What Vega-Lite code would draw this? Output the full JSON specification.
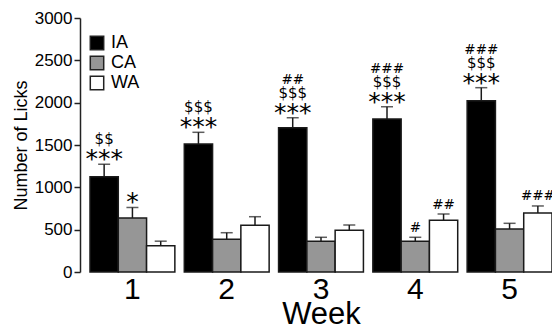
{
  "$schema": "https://vega.github.io/schema/vega-lite/v6.json",
  "width": 462,
  "height": 254,
  "autosize": "none",
  "padding": {"left": 90, "top": 18, "right": 0, "bottom": 60},
  "background": "white",
  "config": {
    "view": {"stroke": null},
    "font": "Liberation Sans",
    "axisY": {
      "offset": 10,
      "domainColor": "#222",
      "domainWidth": 1.5,
      "tickColor": "#222",
      "tickWidth": 1.5,
      "tickSize": 6,
      "labelPadding": 2,
      "labelFontSize": 17,
      "labelColor": "black",
      "titleFontSize": 18,
      "titleFontWeight": "normal",
      "titleColor": "black",
      "titlePadding": 4,
      "grid": false,
      "format": "d",
      "values": [0, 500, 1000, 1500, 2000, 2500, 3000]
    }
  },
  "data": {
    "values": [
      {"week": "1", "group": "IA", "value": 1126, "err": 1272, "star": "***", "dollar": "$$", "hash": ""},
      {"week": "1", "group": "CA", "value": 638, "err": 762, "star": "*", "dollar": "", "hash": ""},
      {"week": "1", "group": "WA", "value": 311, "err": 364, "star": "", "dollar": "", "hash": ""},
      {"week": "2", "group": "IA", "value": 1512, "err": 1650, "star": "***", "dollar": "$$$", "hash": ""},
      {"week": "2", "group": "CA", "value": 386, "err": 464, "star": "", "dollar": "", "hash": ""},
      {"week": "2", "group": "WA", "value": 552, "err": 653, "star": "", "dollar": "", "hash": ""},
      {"week": "3", "group": "IA", "value": 1704, "err": 1822, "star": "***", "dollar": "$$$", "hash": "##"},
      {"week": "3", "group": "CA", "value": 363, "err": 410, "star": "", "dollar": "", "hash": ""},
      {"week": "3", "group": "WA", "value": 492, "err": 555, "star": "", "dollar": "", "hash": ""},
      {"week": "4", "group": "IA", "value": 1807, "err": 1952, "star": "***", "dollar": "$$$", "hash": "###"},
      {"week": "4", "group": "CA", "value": 363, "err": 410, "star": "", "dollar": "", "hash": "#"},
      {"week": "4", "group": "WA", "value": 611, "err": 685, "star": "", "dollar": "", "hash": "##"},
      {"week": "5", "group": "IA", "value": 2023, "err": 2177, "star": "***", "dollar": "$$$", "hash": "###"},
      {"week": "5", "group": "CA", "value": 508, "err": 575, "star": "", "dollar": "", "hash": ""},
      {"week": "5", "group": "WA", "value": 697, "err": 780, "star": "", "dollar": "", "hash": "###"}
    ]
  },
  "encoding": {
    "x": {
      "field": "week",
      "type": "ordinal",
      "scale": {"paddingInner": 0.1, "paddingOuter": 0},
      "axis": {
        "title": "Week",
        "labelAngle": 0,
        "domain": false,
        "ticks": false,
        "labelFontSize": 30,
        "labelColor": "black",
        "labelPadding": 2,
        "titleFontSize": 31,
        "titleFontWeight": "normal",
        "titleColor": "black",
        "titlePadding": -5
      }
    },
    "xOffset": {
      "field": "group",
      "type": "nominal",
      "sort": ["IA", "CA", "WA"],
      "scale": {"domain": ["IA", "CA", "WA"], "paddingInner": 0, "paddingOuter": 0}
    }
  },
  "layer": [
    {
      "mark": {"type": "bar", "stroke": "#1a1a1a", "strokeWidth": 1.5},
      "encoding": {
        "y": {"field": "value", "type": "quantitative", "title": "Number of Licks", "scale": {"domain": [0, 3000], "nice": false}},
        "color": {
          "field": "group",
          "type": "nominal",
          "scale": {"domain": ["IA", "CA", "WA"], "range": ["#000000", "#969696", "#ffffff"]},
          "legend": {
            "title": null,
            "orient": "none",
            "legendX": -2,
            "legendY": 16,
            "symbolType": "square",
            "symbolSize": 180,
            "symbolStrokeColor": "#222",
            "symbolStrokeWidth": 1.5,
            "symbolOpacity": 1,
            "labelFontSize": 18,
            "labelColor": "black",
            "labelOffset": 5,
            "rowPadding": 0
          }
        }
      }
    },
    {
      "mark": {"type": "rule", "strokeWidth": 1.5, "color": "#1a1a1a"},
      "encoding": {
        "y": {"field": "value", "type": "quantitative", "title": "Number of Licks"},
        "y2": {"field": "err"}
      }
    },
    {
      "mark": {"type": "tick", "thickness": 1.5, "size": 12, "color": "#1a1a1a"},
      "encoding": {
        "y": {"field": "err", "type": "quantitative", "title": "Number of Licks"}
      }
    },
    {
      "transform": [{"filter": "datum.star != ''"}],
      "mark": {"type": "text", "font": "DejaVu Sans", "fontSize": 25, "dy": 3, "baseline": "alphabetic", "align": "center", "color": "black"},
      "encoding": {
        "y": {"field": "err", "type": "quantitative", "title": "Number of Licks"},
        "text": {"field": "star"}
      }
    },
    {
      "transform": [{"filter": "datum.dollar != ''"}],
      "mark": {"type": "text", "font": "DejaVu Sans", "fontSize": 15, "dy": -20, "baseline": "alphabetic", "align": "center", "color": "black"},
      "encoding": {
        "y": {"field": "err", "type": "quantitative", "title": "Number of Licks"},
        "text": {"field": "dollar"}
      }
    },
    {
      "transform": [{"filter": "datum.hash != '' && datum.star != ''"}],
      "mark": {"type": "text", "font": "DejaVu Sans", "fontSize": 13.5, "dy": -34, "baseline": "alphabetic", "align": "center", "color": "black"},
      "encoding": {
        "y": {"field": "err", "type": "quantitative", "title": "Number of Licks"},
        "text": {"field": "hash"}
      }
    },
    {
      "transform": [{"filter": "datum.hash != '' && datum.star == ''"}],
      "mark": {"type": "text", "font": "DejaVu Sans", "fontSize": 13.5, "dy": -5.5, "baseline": "alphabetic", "align": "center", "color": "black"},
      "encoding": {
        "y": {"field": "err", "type": "quantitative", "title": "Number of Licks"},
        "text": {"field": "hash"}
      }
    }
  ]
}
